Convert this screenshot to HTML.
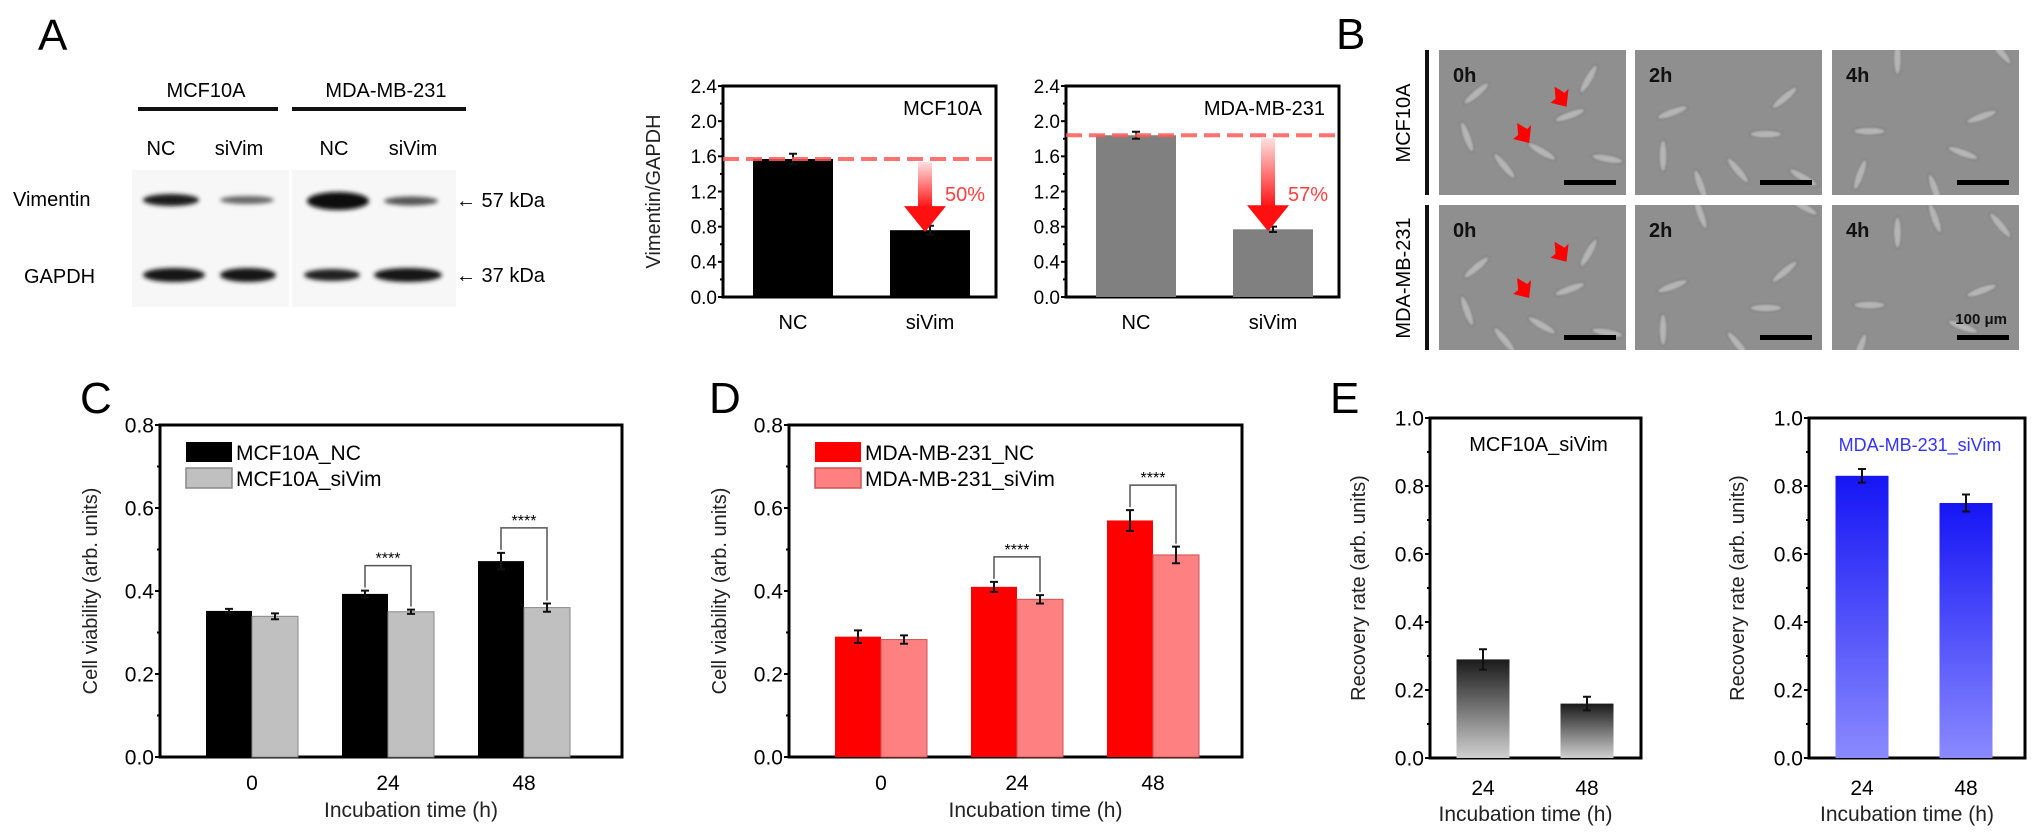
<!DOCTYPE html>
<html><head><meta charset="utf-8"><title>Vimentin figure</title>
<style>
html,body{margin:0;padding:0;background:#fff;}
svg{display:block;font-family:"Liberation Sans",Arial,sans-serif;}
</style></head>
<body>
<svg id="fig" width="2032" height="839" viewBox="0 0 2032 839" xmlns="http://www.w3.org/2000/svg">
<defs>
  <filter id="blur2"><feGaussianBlur stdDeviation="2.2"/></filter>
  <filter id="blur1"><feGaussianBlur stdDeviation="1"/></filter>
  <linearGradient id="gE1" x1="0" y1="0" x2="0" y2="1"><stop offset="0" stop-color="#1a1a1a"/><stop offset="1" stop-color="#d0d0d0"/></linearGradient>
  <linearGradient id="gE2" x1="0" y1="0" x2="0" y2="1"><stop offset="0" stop-color="#1515f5"/><stop offset="1" stop-color="#8a8aff"/></linearGradient>
  <linearGradient id="gArrow" x1="0" y1="0" x2="0" y2="1"><stop offset="0" stop-color="#ffe0e0"/><stop offset="1" stop-color="#ff1010"/></linearGradient>
</defs>

<!-- Panel A western blot -->
<g>
  <text x="38" y="50" font-size="44">A</text>
  <text x="206" y="97" font-size="20" text-anchor="middle">MCF10A</text>
  <text x="386" y="97" font-size="20" text-anchor="middle">MDA-MB-231</text>
  <rect x="138" y="107" width="140" height="4" fill="#111"/>
  <rect x="292" y="107" width="174" height="4" fill="#111"/>
  <text x="161" y="155" font-size="20" text-anchor="middle">NC</text>
  <text x="239" y="155" font-size="20" text-anchor="middle">siVim</text>
  <text x="334" y="155" font-size="20" text-anchor="middle">NC</text>
  <text x="413" y="155" font-size="20" text-anchor="middle">siVim</text>
  <rect x="132" y="170" width="157" height="137" fill="#f7f7f7"/>
  <rect x="292" y="170" width="164" height="137" fill="#f7f7f7"/>
  <text x="13" y="206" font-size="20">Vimentin</text>
  <text x="24" y="283" font-size="20">GAPDH</text>
  <g filter="url(#blur2)">
    <ellipse cx="171" cy="200" rx="28" ry="6" fill="#1a1a1a"/>
    <ellipse cx="247" cy="200" rx="27" ry="4" fill="#666"/>
    <ellipse cx="338" cy="201" rx="31" ry="9" fill="#0a0a0a"/>
    <ellipse cx="411" cy="201" rx="27" ry="4.5" fill="#555"/>
    <ellipse cx="174" cy="275" rx="31" ry="7" fill="#151515"/>
    <ellipse cx="248" cy="275" rx="28" ry="7" fill="#151515"/>
    <ellipse cx="332" cy="275" rx="28" ry="6" fill="#222"/>
    <ellipse cx="408" cy="275" rx="34" ry="7" fill="#151515"/>
  </g>
  <text x="456" y="207" font-size="20">← 57 kDa</text>
  <text x="456" y="282" font-size="20">← 37 kDa</text>
</g>

<!-- Panel B -->
<g id="panelB">
  <text x="1336" y="49" font-size="44">B</text>
  <rect x="1425" y="50" width="4" height="145" fill="#111"/>
  <rect x="1425" y="205" width="4" height="145" fill="#111"/>
  <text transform="translate(1410,123) rotate(-90)" font-size="20" text-anchor="middle">MCF10A</text>
  <text transform="translate(1410,278) rotate(-90)" font-size="20" text-anchor="middle">MDA-MB-231</text>
</g>

<g id="charts"></g>
</svg>

<script>
// ---------- data ----------
const aCats = ['NC', 'siVim'];
const a1Vals = [1.57, 0.76];
const a1Err = [0.06, 0.05];
const a2Vals = [1.84, 0.77];
const a2Err = [0.04, 0.03];
const aTicks = ['0.0', '0.4', '0.8', '1.2', '1.6', '2.0', '2.4'];

const timeCats = ['0', '24', '48'];
const cNC = [0.352, 0.393, 0.472];
const cNCErr = [0.005, 0.008, 0.02];
const cSi = [0.339, 0.350, 0.360];
const cSiErr = [0.007, 0.005, 0.01];
const dNC = [0.29, 0.41, 0.57];
const dNCErr = [0.015, 0.012, 0.025];
const dSi = [0.283, 0.38, 0.487];
const dSiErr = [0.01, 0.01, 0.02];
const cdTicks = ['0.0', '0.2', '0.4', '0.6', '0.8'];

const eCats = ['24', '48'];
const e1Vals = [0.29, 0.16];
const e1Err = [0.03, 0.02];
const e2Vals = [0.83, 0.75];
const e2Err = [0.02, 0.025];
const eTicks = ['0.0', '0.2', '0.4', '0.6', '0.8', '1.0'];

// ---------- helpers ----------
const NS = 'http://www.w3.org/2000/svg';
const root = document.getElementById('charts');
function mk(tag, attrs, parent) {
  const e = document.createElementNS(NS, tag);
  for (const k in attrs) e.setAttribute(k, attrs[k]);
  (parent || root).appendChild(e);
  return e;
}
function txt(x, y, s, size, anchor, parent, fill) {
  const t = mk('text', {x: x, y: y, 'font-size': size, 'text-anchor': anchor || 'middle', fill: fill || '#000'}, parent);
  t.textContent = s;
  return t;
}

function axes(g, L, R, T, B, max, ticks, minorStep, yTitle, titleX, tickSize, xTitle) {
  const ys = v => B - v / max * (B - T);
  ticks.forEach((s, i) => {
    const v = parseFloat(s);
    const t = txt(L - 6, ys(v) + tickSize * 0.36, s, tickSize, 'end', g);
    
    
    const tk = mk('line', {x1: L - 5, x2: L, y1: ys(v), y2: ys(v), stroke: '#000', 'stroke-width': 2}, g);
    
    
  });
  for (let v = minorStep; v < max; v += minorStep * 2) {
    const m = mk('line', {x1: L - 3, x2: L, y1: ys(v), y2: ys(v), stroke: '#000', 'stroke-width': 2}, g);
    
    
  }
  const fr = mk('rect', {x: L, y: T, width: R - L, height: B - T, fill: 'none', stroke: '#000', 'stroke-width': 3}, g);
  
  
  const yt = txt(0, 0, yTitle, 20, 'middle', g, '#222');
  yt.setAttribute('transform', 'translate(' + titleX + ',' + ((T + B) / 2) + ') rotate(-90)');
  
  
  if (xTitle) {
    const xt = txt(xTitle[0], xTitle[1], 'Incubation time (h)', 21, 'middle', g, '#222');
    
    
  }
  return ys;
}

function bar(g, cx, w, v, err, ys, B, fill, stroke, name) {
  const r = mk('rect', {x: cx - w / 2, y: ys(v), width: w, height: B - ys(v), fill: fill, stroke: stroke || 'none', 'stroke-width': 1}, g);
  
  
  const e = mk('path', {d: 'M' + (cx - 4) + ' ' + ys(v + err) + 'H' + (cx + 4) + 'M' + cx + ' ' + ys(v + err) + 'V' + ys(v - err) + 'M' + (cx - 4) + ' ' + ys(v - err) + 'H' + (cx + 4), stroke: '#111', 'stroke-width': 2, fill: 'none'}, g);
  
  
}

// ---------- Panel A charts ----------
function chartA(L, vals, errs, fill, label, pct) {
  const g = mk('g', {});
  
  
  const R = L + 273, T = 86, B = 297;
  const ys = axes(g, L, R, T, B, 2.4, aTicks, 0.2, L < 900 ? 'Vimentin/GAPDH' : '', L - 63, 19);
  const xs = i => L + 70 + i * 137;
  aCats.forEach((c, i) => {
    bar(g, xs(i), 80, vals[i], errs[i], ys, B, fill, null, 'bar-' + c.toLowerCase());
    const t = txt(xs(i), 329, c, 20, 'middle', g);
    
    
  });
  const lt = txt(R - 14, 115, label, 20, 'end', g);
  
  
  const dl = mk('line', {x1: L, x2: R, y1: ys(vals[0]), y2: ys(vals[0]), stroke: '#ff5a5a', 'stroke-width': 4, 'stroke-dasharray': '16 7', opacity: 0.85}, g);
  
  
  const ax = xs(1) - 5, y0 = ys(vals[0]) + 3, y1 = ys(vals[1]);
  const sh = mk('rect', {x: ax - 7, y: y0, width: 14, height: (y1 - y0) - 22, fill: 'url(#gArrow)'}, g);
  
  
  const hd = mk('path', {d: 'M' + (ax - 21) + ' ' + (y1 - 24) + 'L' + (ax + 21) + ' ' + (y1 - 24) + 'L' + ax + ' ' + (y1 + 2) + 'Z', fill: '#ff1010'}, g);
  
  
  const pt = txt(ax + 20, 201, pct, 20, 'start', g, '#ff4040');
  
  
}
chartA(723, a1Vals, a1Err, '#000', 'MCF10A', '50%');
chartA(1066, a2Vals, a2Err, '#808080', 'MDA-MB-231', '57%');

// ---------- Panels C, D ----------
function chartCD(L, R, letter, nc, ncE, si, siE, fillNC, fillSi, strokeSi, names, sigs) {
  const g = mk('g', {});
  
  
  const T = 425, B = 757;
  const pl = txt(L - 80, 413, letter, 44, 'start', g);
  
  
  const ys = axes(g, L, R, T, B, 0.8, cdTicks, 0.1, 'Cell viability (arb. units)', L - 63, 21, [(L + R) / 2 + 20, 817]);
  const xs = i => L + 92 + i * 136;
  timeCats.forEach((c, i) => {
    bar(g, xs(i) - 23, 46, nc[i], ncE[i], ys, B, fillNC, null, 'bar-nc-' + c + 'h');
    bar(g, xs(i) + 23, 46, si[i], siE[i], ys, B, fillSi, strokeSi, 'bar-sivim-' + c + 'h');
    const t = txt(xs(i), 790, c, 21, 'middle', g);
    
    
  });
  sigs.forEach(i => {
    const a = xs(i) - 23, b = xs(i) + 23;
    const ya = ys(nc[i] + ncE[i]) - 3, yb = ys(si[i] + siE[i]) - 3;
    const top = ya - 22;
    const br = mk('path', {d: 'M' + a + ' ' + ya + 'V' + top + 'H' + b + 'V' + yb, stroke: '#555', 'stroke-width': 1.5, fill: 'none'}, g);
    
    
    const st = txt(xs(i), top - 2, '****', 16, 'middle', g);
    
    
  });
  [[fillNC, names[0], 442, null], [fillSi, names[1], 468, strokeSi]].forEach((l, k) => {
    const sw = mk('rect', {x: L + 26, y: l[2], width: 46, height: 20, fill: l[0], stroke: l[3] || 'none', 'stroke-width': 1.5}, g);
    
    
    const lt = txt(L + 76, l[2] + 18, l[1], 21, 'start', g);
    
    
  });
}
chartCD(160, 622, 'C', cNC, cNCErr, cSi, cSiErr, '#000', '#c0c0c0', '#888', ['MCF10A_NC', 'MCF10A_siVim'], [1, 2]);
chartCD(789, 1242, 'D', dNC, dNCErr, dSi, dSiErr, '#ff0000', '#ff8080', '#cc5555', ['MDA-MB-231_NC', 'MDA-MB-231_siVim'], [1, 2]);

// ---------- Panel E ----------
function chartE(L, R, vals, errs, fill, label, labelFill, labelSize, withLetter) {
  const g = mk('g', {});
  
  
  const T = 418, B = 758;
  if (withLetter) {
    const pl = txt(L - 100, 413, 'E', 44, 'start', g);
    
    
  }
  const ys = axes(g, L, R, T, B, 1.0, eTicks, 0.1, 'Recovery rate (arb. units)', L - 65, 21, [(L + R) / 2 - 10, 821]);
  const xs = i => L + 53 + i * 104;
  eCats.forEach((c, i) => {
    bar(g, xs(i), 53, vals[i], errs[i], ys, B, fill, null, 'bar-' + c + 'h');
    const t = txt(xs(i), 795, c, 21, 'middle', g);
    
    
  });
  const lt = txt((L + R) / 2 + 3, 451, label, labelSize, 'middle', g, labelFill);
  
  
}
chartE(1430, 1641, e1Vals, e1Err, 'url(#gE1)', 'MCF10A_siVim', '#000', 20, true);
chartE(1809, 2025, e2Vals, e2Err, 'url(#gE2)', 'MDA-MB-231_siVim', '#3333ff', 18, false);

// ---------- Panel B images ----------
const B_ = document.getElementById('panelB');
const defs = document.querySelector('defs');
const colX = [1439, 1635, 1832];
const rowY = [50, 205];
const times = ['0h', '2h', '4h'];
const cells = [[0.2,0.3,-40],[0.55,0.7,30],[0.8,0.2,-60],[0.35,0.8,50],[0.7,0.45,-20],[0.15,0.6,70],[0.9,0.75,10]];
rowY.forEach((ry, r) => {
  colX.forEach((cx, c) => {
    const cp = mk('clipPath', {id: 'clip' + r + c}, defs);
    mk('rect', {x: cx, y: ry, width: 187, height: 145}, cp);
    const cg = mk('g', {'clip-path': 'url(#clip' + r + c + ')'}, B_);
    
    
    const im = mk('rect', {x: cx, y: ry, width: 187, height: 145, fill: '#8f8f8f'}, cg);
    
    
    cells.forEach((p, k) => {
      const ex = cx + p[0] * 187, ey = ry + ((p[1] + 0.13 * (r + c)) % 1) * 145;
      const el = mk('ellipse', {cx: ex, cy: ey, rx: 16, ry: 4, fill: '#b5b5b5', stroke: '#6a6a6a', 'stroke-width': 1, transform: 'rotate(' + (p[2] + 20 * c) + ' ' + ex + ' ' + ey + ')', filter: 'url(#blur1)'}, cg);
      
      
    });
    const t = txt(cx + 14, ry + 32, times[c], 20, 'start', cg, '#111');
    t.setAttribute('font-weight', 'bold');
    
    
    const sb = mk('rect', {x: cx + 125, y: ry + 130, width: 52, height: 5, fill: '#000'}, cg);
    
    
    if (c === 0) {
      [[0.65, 0.35], [0.45, 0.6]].forEach(a => {
        const ax = cx + a[0] * 187, ay = ry + a[1] * 145;
        const ar = mk('path', {d: 'M' + (ax - 6) + ' ' + (ay - 14) + 'L' + (ax + 4) + ' ' + (ay - 8) + 'L' + (ax + 8) + ' ' + (ay - 12) + 'L' + (ax + 6) + ' ' + (ay + 6) + 'L' + (ax - 10) + ' ' + (ay + 2) + 'L' + (ax - 5) + ' ' + (ay - 2) + 'Z', fill: '#ff0000'}, cg);
        
        
      });
    }
  });
});
const um = txt(2007, 324, '100 μm', 15, 'end', B_, '#111');
um.setAttribute('font-weight', 'bold');


</script>
</body></html>
